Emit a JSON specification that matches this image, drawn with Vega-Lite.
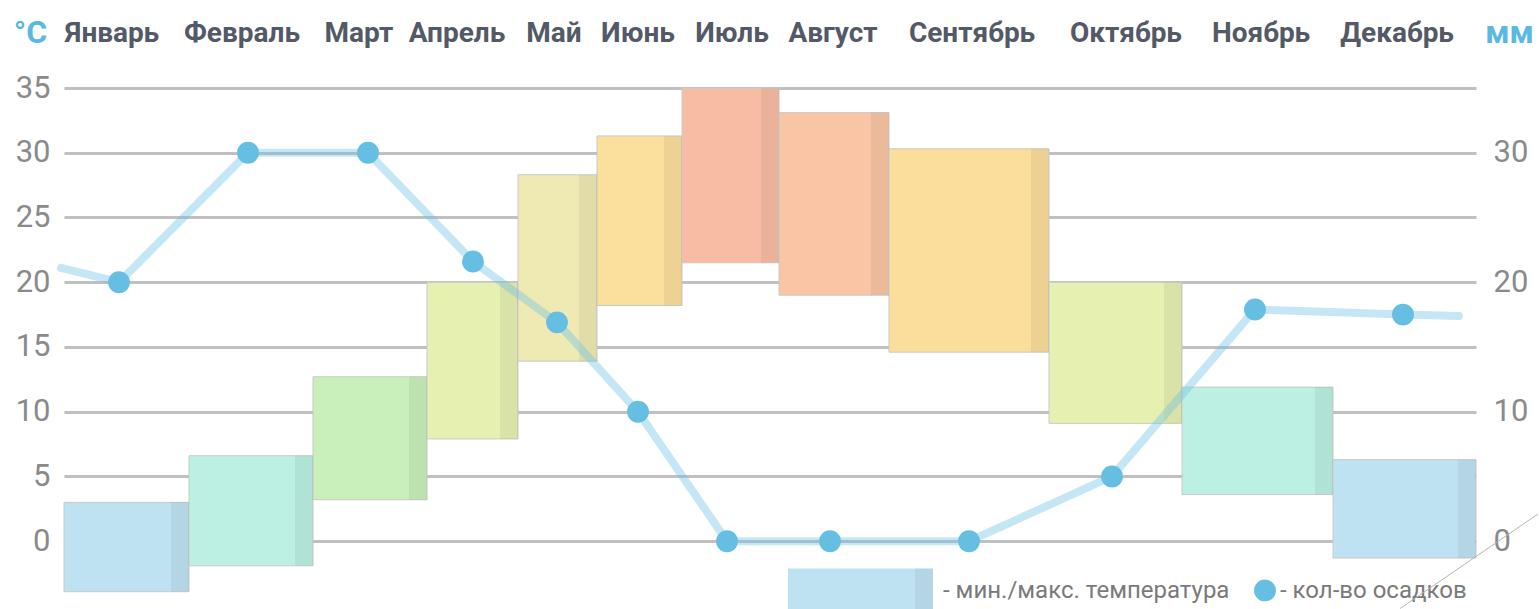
{
  "$schema": "https://vega.github.io/schema/vega-lite/v6.json",
  "autosize": {"type": "none"},
  "width": 1412,
  "height": 505,
  "padding": {"left": 64, "top": 88, "right": 63, "bottom": 16},
  "background": "#ffffff",
  "config": {"view": {"stroke": null}, "font": "Roboto"},
  "datasets": {
    "climate": [
      {"month": "Январь", "x0": 0, "x1": 125, "xp": 55, "xl": 48, "tmin": -3.9, "tmax": 3.0, "mm": 20},
      {"month": "Февраль", "x0": 125, "x1": 249, "xp": 184, "xl": 178, "tmin": -1.9, "tmax": 6.6, "mm": 30},
      {"month": "Март", "x0": 249, "x1": 363, "xp": 304, "xl": 295, "tmin": 3.2, "tmax": 12.7, "mm": 30},
      {"month": "Апрель", "x0": 363, "x1": 454, "xp": 409, "xl": 393, "tmin": 7.9, "tmax": 20.0, "mm": 21.6},
      {"month": "Май", "x0": 454, "x1": 533, "xp": 493, "xl": 490, "tmin": 13.9, "tmax": 28.3, "mm": 16.9},
      {"month": "Июнь", "x0": 533, "x1": 618, "xp": 574, "xl": 574, "tmin": 18.2, "tmax": 31.3, "mm": 10},
      {"month": "Июль", "x0": 618, "x1": 715, "xp": 663, "xl": 668, "tmin": 21.5, "tmax": 35, "mm": 0},
      {"month": "Август", "x0": 715, "x1": 825, "xp": 766, "xl": 769, "tmin": 19.0, "tmax": 33.1, "mm": 0},
      {"month": "Сентябрь", "x0": 825, "x1": 985, "xp": 905, "xl": 908, "tmin": 14.6, "tmax": 30.3, "mm": 0},
      {"month": "Октябрь", "x0": 985, "x1": 1118, "xp": 1048, "xl": 1062, "tmin": 9.1, "tmax": 20.0, "mm": 5},
      {"month": "Ноябрь", "x0": 1118, "x1": 1269, "xp": 1191, "xl": 1197, "tmin": 3.6, "tmax": 11.9, "mm": 17.9},
      {"month": "Декабрь", "x0": 1269, "x1": 1412, "xp": 1339, "xl": 1333, "tmin": -1.3, "tmax": 6.3, "mm": 17.5}
    ],
    "precipLine": [
      {"xp": -3, "mm": 21.1},
      {"xp": 55, "mm": 20},
      {"xp": 184, "mm": 30},
      {"xp": 304, "mm": 30},
      {"xp": 409, "mm": 21.6},
      {"xp": 493, "mm": 16.9},
      {"xp": 574, "mm": 10},
      {"xp": 663, "mm": 0},
      {"xp": 766, "mm": 0},
      {"xp": 905, "mm": 0},
      {"xp": 1048, "mm": 5},
      {"xp": 1191, "mm": 17.9},
      {"xp": 1339, "mm": 17.5},
      {"xp": 1395, "mm": 17.4}
    ]
  },
  "resolve": {"scale": {"y": "independent"}},
  "layer": [
    {
      "layer": [
        {
          "data": {"name": "climate"},
          "mark": {"type": "rect", "stroke": "#c9c9c9", "strokeWidth": 1},
          "encoding": {
            "x": {"field": "x0", "type": "quantitative", "scale": {"domain": [0, 1412], "nice": false, "zero": false}, "axis": null},
            "x2": {"field": "x1"},
            "y": {
              "field": "tmin", "type": "quantitative",
              "scale": {"domain": [-4, 35], "nice": false, "zero": false},
              "axis": {
                "orient": "left",
                "values": [0, 5, 10, 15, 20, 25, 30, 35],
                "grid": true, "gridColor": "#c0c0c0", "gridWidth": 3,
                "domain": false, "ticks": false,
                "labelFont": "Roboto", "labelFontSize": 31, "labelColor": "#8a8a8a", "labelPadding": 14,
                "title": "°C", "titleAngle": 0, "titleX": -34, "titleY": -46,
                "titleAlign": "center", "titleBaseline": "alphabetic",
                "titleFont": "Roboto", "titleFontSize": 32, "titleFontWeight": "bold", "titleColor": "#5ab9e0"
              }
            },
            "y2": {"field": "tmax"},
            "fill": {
              "field": "month", "type": "nominal", "legend": null,
              "scale": {
                "domain": ["Январь", "Февраль", "Март", "Апрель", "Май", "Июнь", "Июль", "Август", "Сентябрь", "Октябрь", "Ноябрь", "Декабрь"],
                "range": ["#bee2f2", "#bbf0e2", "#c9efbb", "#e6f0b1", "#efeab3", "#fbdf9d", "#f8bca4", "#f9c5a5", "#fbde9c", "#e6f0b1", "#bbf0e2", "#bee2f2"]
              }
            }
          }
        },
        {
          "data": {"name": "climate"},
          "mark": {"type": "rect", "fill": "#000000", "fillOpacity": 0.055, "xOffset": -18},
          "encoding": {
            "x": {"field": "x1", "type": "quantitative"},
            "x2": {"field": "x1"},
            "y": {"field": "tmin", "type": "quantitative"},
            "y2": {"field": "tmax"}
          }
        },
        {
          "data": {"name": "climate"},
          "mark": {"type": "text", "font": "Roboto", "fontSize": 28, "fontWeight": "bold", "color": "#535966", "align": "center", "baseline": "alphabetic"},
          "encoding": {
            "x": {"field": "xl", "type": "quantitative"},
            "y": {"datum": 38.55},
            "text": {"field": "month"}
          }
        },
        {
          "data": {"values": [{}]},
          "mark": {"type": "rect", "fill": "#bee2f2"},
          "encoding": {
            "x": {"datum": 724}, "x2": {"datum": 869},
            "y": {"datum": -2.1}, "y2": {"datum": -6}
          }
        },
        {
          "data": {"values": [{}]},
          "mark": {"type": "rect", "fill": "#000000", "fillOpacity": 0.055, "xOffset": -18},
          "encoding": {
            "x": {"datum": 869}, "x2": {"datum": 869},
            "y": {"datum": -2.1}, "y2": {"datum": -6}
          }
        },
        {
          "data": {"values": [{"label": "- мин./макс. температура"}]},
          "mark": {"type": "text", "font": "Roboto", "fontSize": 24, "color": "#7a7a7a", "align": "left", "baseline": "alphabetic"},
          "encoding": {
            "x": {"datum": 879}, "y": {"datum": -4.4},
            "text": {"field": "label"}
          }
        },
        {
          "data": {"values": [{"label": "- кол-во осадков"}]},
          "mark": {"type": "text", "font": "Roboto", "fontSize": 24, "color": "#7a7a7a", "align": "left", "baseline": "alphabetic"},
          "encoding": {
            "x": {"datum": 1216}, "y": {"datum": -4.4},
            "text": {"field": "label"}
          }
        },
        {
          "data": {"values": [{}]},
          "mark": {"type": "rule", "stroke": "#b5b5b5", "strokeWidth": 1},
          "encoding": {
            "x": {"datum": 1474}, "y": {"datum": 2.1},
            "x2": {"datum": 1336}, "y2": {"datum": -5.2}
          }
        }
      ]
    },
    {
      "layer": [
        {
          "data": {"name": "precipLine"},
          "mark": {"type": "line", "stroke": "#6ec4e6", "strokeWidth": 8, "opacity": 0.4, "strokeCap": "round", "strokeJoin": "round"},
          "encoding": {
            "x": {"field": "xp", "type": "quantitative"},
            "y": {
              "field": "mm", "type": "quantitative",
              "scale": {"domain": [-4, 35], "nice": false, "zero": false},
              "axis": {
                "orient": "right",
                "values": [0, 10, 20, 30],
                "grid": false, "domain": false, "ticks": false,
                "labelFont": "Roboto", "labelFontSize": 31, "labelColor": "#8a8a8a", "labelPadding": 17,
                "title": "мм", "titleAngle": 0, "titleX": 33, "titleY": -46,
                "titleAlign": "center", "titleBaseline": "alphabetic",
                "titleFont": "Roboto", "titleFontSize": 32, "titleFontWeight": "bold", "titleColor": "#5ab9e0"
              }
            }
          }
        },
        {
          "data": {"name": "climate"},
          "mark": {"type": "point", "filled": true, "shape": "circle", "size": 480, "fill": "#66bfe3", "opacity": 1},
          "encoding": {
            "x": {"field": "xp", "type": "quantitative"},
            "y": {"field": "mm", "type": "quantitative"}
          }
        },
        {
          "data": {"values": [{}]},
          "mark": {"type": "point", "filled": true, "shape": "circle", "size": 480, "fill": "#66bfe3", "opacity": 1},
          "encoding": {
            "x": {"datum": 1201}, "y": {"datum": -3.8}
          }
        }
      ]
    }
  ]
}
